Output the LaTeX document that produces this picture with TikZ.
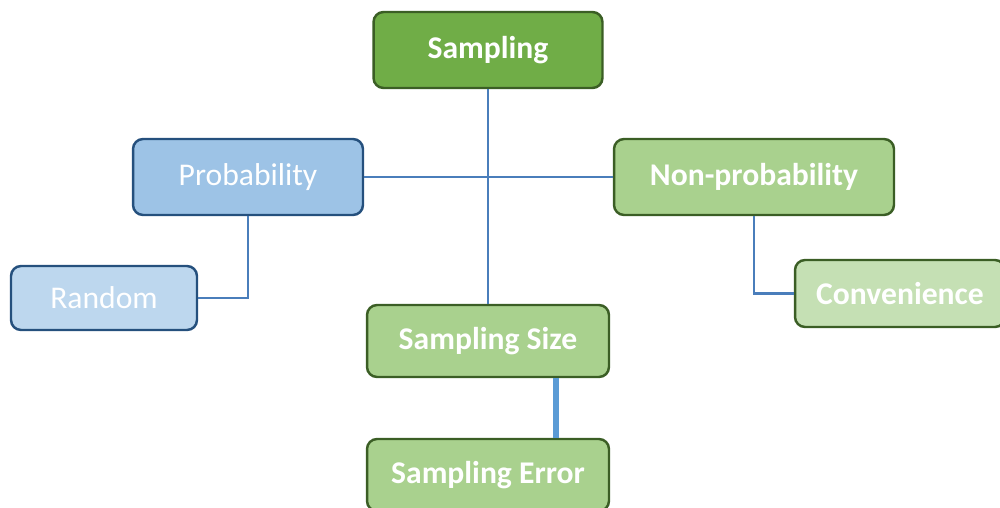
\documentclass[tikz,border=0pt]{standalone}
\usepackage{fontspec}
\setmainfont{Carlito}
\definecolor{darkgreen}{HTML}{70AD47}
\definecolor{midgreen}{HTML}{A9D18E}
\definecolor{palegreen}{HTML}{C5E0B4}
\definecolor{greenline}{HTML}{3B5E25}
\definecolor{midblue}{HTML}{9DC3E6}
\definecolor{paleblue}{HTML}{BDD7EE}
\definecolor{blueline}{HTML}{25507D}
\definecolor{linkblue}{HTML}{4A7EBB}
\definecolor{thickblue}{HTML}{5B9BD5}
\begin{document}
\begin{tikzpicture}[
          x=0.02cm,
          y=-0.02cm,
          box/.style={draw, rounded corners=0.2cm, line width=1.4pt, inner sep=0pt, text=white},
          greenbox/.style={box, draw=greenline, font=\fontsize{18}{20}\selectfont\bfseries},
          bluebox/.style={box, draw=blueline, font=\fontsize{18}{20}\selectfont},
          link/.style={draw=linkblue, line width=1.5pt},
          thicklink/.style={draw=thickblue, line width=3pt}
        ]
        \useasboundingbox (0,0) rectangle (1000,507);
        \clip (0,0) rectangle (1000,507);
        \node[greenbox, fill=darkgreen, minimum width=4.58cm, minimum height=1.52cm] (samp) at (488,50) {Sampling};
        \node[bluebox, fill=midblue, minimum width=4.6cm, minimum height=1.52cm] (prob) at (248,177) {Probability};
        \node[greenbox, fill=midgreen, minimum width=5.6cm, minimum height=1.52cm] (nonprob) at (754,177) {Non-probability};
        \node[bluebox, fill=paleblue, minimum width=3.72cm, minimum height=1.28cm] (rand) at (104,298) {Random};
        \node[greenbox, fill=palegreen, minimum width=4.2cm, minimum height=1.34cm] (conv) at (900,293.5) {Convenience};
        \node[greenbox, fill=midgreen, minimum width=4.84cm, minimum height=1.44cm] (size) at (488,341) {Sampling Size};
        \node[greenbox, fill=midgreen, minimum width=4.84cm, minimum height=1.44cm] (err) at (488,475) {Sampling Error};
        \draw[link] (samp.south) -- (size.north);
        \draw[link] (prob.east) -- (nonprob.west);
        \draw[link] (prob.south) |- (rand.east);
        \draw[link] (nonprob.south) |- (conv.west);
        \draw[thicklink] ([xshift=1.36cm]size.south) -- ([xshift=1.36cm]err.north);
\end{tikzpicture}
\end{document}
